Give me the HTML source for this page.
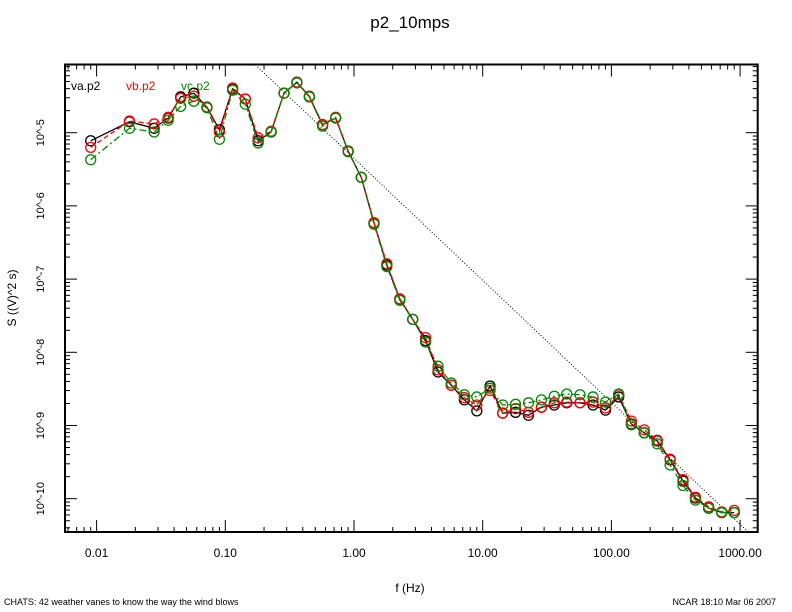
<!DOCTYPE html>
<html><head><meta charset="utf-8"><style>
body{margin:0;background:#fff;}
svg{display:block;font-family:"Liberation Sans",sans-serif;}
</style></head><body>
<svg id="chart" width="792" height="612" xmlns="http://www.w3.org/2000/svg">
<rect width="792" height="612" fill="#fff"/>
<text x="410" y="28" font-size="17" text-anchor="middle">p2_10mps</text>
<text x="410" y="592" font-size="12" text-anchor="middle">f (Hz)</text>
<text transform="translate(16,298) rotate(-90)" font-size="12" text-anchor="middle">S ((V)^2 s)</text>
<text x="4" y="605" font-size="9">CHATS: 42 weather vanes to know the way the wind blows</text>
<text x="776" y="605" font-size="9" text-anchor="end">NCAR 18:10 Mar 06 2007</text>
<text x="71" y="90" font-size="12" fill="#000">va.p2</text>
<text x="126" y="90" font-size="12" fill="#f00">vb.p2</text>
<text x="181" y="90" font-size="12" fill="#080">vc.p2</text>
<g id="axes"></g>
<g id="marks"></g>
<rect x="65" y="64.5" width="692.7" height="467.5" fill="none" stroke="#000" stroke-width="2"/>
</svg>
<script>
const freqs=[0.009,0.018,0.028,0.036,0.045,0.057,0.072,0.09,0.114,0.143,0.18,0.227,0.286,0.36,0.45,0.57,0.72,0.9,1.14,1.43,1.8,2.27,2.86,3.6,4.5,5.7,7.2,9.0,11.4,14.3,18,22.7,28.6,36,45,57,72,90,114,143,180,227,286,360,450,570,720,900];
const vaLog=[-5.11,-4.85,-4.94,-4.80,-4.51,-4.46,-4.65,-4.96,-4.40,-4.54,-5.11,-4.99,-4.46,-4.31,-4.51,-4.89,-4.80,-5.25,-5.61,-6.23,-6.81,-7.27,-7.55,-7.84,-8.27,-8.45,-8.65,-8.80,-8.46,-8.83,-8.82,-8.86,-8.75,-8.72,-8.69,-8.69,-8.72,-8.79,-8.61,-8.98,-9.10,-9.21,-9.47,-9.76,-9.99,-10.13,-10.19,-10.19];
const vbLog=[-5.20,-4.84,-4.88,-4.79,-4.53,-4.50,-4.65,-4.99,-4.39,-4.54,-5.07,-4.98,-4.46,-4.31,-4.50,-4.89,-4.79,-5.25,-5.61,-6.23,-6.79,-7.27,-7.55,-7.80,-8.24,-8.45,-8.62,-8.72,-8.52,-8.83,-8.77,-8.82,-8.75,-8.69,-8.68,-8.69,-8.68,-8.76,-8.58,-8.94,-9.06,-9.20,-9.46,-9.74,-9.98,-10.11,-10.18,-10.16];
const vcLog=[-5.37,-4.94,-4.99,-4.83,-4.64,-4.57,-4.66,-5.09,-4.42,-4.61,-5.14,-4.99,-4.46,-4.32,-4.51,-4.91,-4.80,-5.26,-5.61,-6.25,-6.83,-7.29,-7.55,-7.86,-8.19,-8.42,-8.58,-8.61,-8.49,-8.72,-8.71,-8.69,-8.65,-8.60,-8.57,-8.58,-8.61,-8.68,-8.57,-8.99,-9.10,-9.25,-9.54,-9.82,-10.02,-10.13,-10.19,-10.19];
const xTickLabels=["0.01","0.10","1.00","10.00","100.00","1000.00"];
const yTickLabels=["10^-5","10^-6","10^-7","10^-8","10^-9","10^-10"];
const refSlope=-5/3, refIntercept=-5.35;
const L=65,R=757.7,T=64.5,B=532;
function X(f){return 354+128.7*Math.log10(f);}
function YL(lg){return 132.7-73.2*(lg+5);}
const NS="http://www.w3.org/2000/svg";
function mk(tag,attrs,parent){const e=document.createElementNS(NS,tag);for(const k in attrs)e.setAttribute(k,attrs[k]);parent.appendChild(e);return e;}
const axes=document.getElementById('axes'), marks=document.getElementById('marks');
for(let d=-3;d<=3;d++){for(let m=1;m<10;m++){const f=m*Math.pow(10,d);const x=X(f);if(x<L||x>R)continue;const len=m===1?12:5;
const t1=mk('line',{x1:x,x2:x,y1:B,y2:B-len,stroke:'#000','stroke-width':1},axes);


const t2=mk('line',{x1:x,x2:x,y1:T,y2:T+len,stroke:'#000','stroke-width':1},axes);

}}
xTickLabels.forEach((s,i)=>{const t=mk('text',{x:X(Math.pow(10,i-2)),y:557,'font-size':12,'text-anchor':'middle'},axes);t.textContent=s;

});
for(let d=-11;d<=-4;d++){for(let m=1;m<10;m++){const lg=d+Math.log10(m);const y=YL(lg);if(y<T||y>B)continue;const len=m===1?12:5;
const t1=mk('line',{x1:L,x2:L+len,y1:y,y2:y,stroke:'#000','stroke-width':1},axes);


const t2=mk('line',{x1:R,x2:R-len,y1:y,y2:y,stroke:'#000','stroke-width':1},axes);

}}
yTickLabels.forEach((s,i)=>{const y=YL(-5-i);const t=mk('text',{transform:`translate(44,${y}) rotate(-90)`,'font-size':11,'text-anchor':'middle'},axes);t.textContent=s;

});
(function(){const f1=Math.pow(10,-0.8),f2=Math.pow(10,3.2);
const ln=mk('line',{x1:X(f1),y1:YL(refIntercept+refSlope*Math.log10(f1)),x2:X(f2),y2:YL(refIntercept+refSlope*Math.log10(f2)),stroke:'#000','stroke-width':1,'stroke-dasharray':'1,2'},marks);

})();
const cp=document.createElementNS(NS,'clipPath');cp.id='clip';mk('rect',{x:L,y:T,width:R-L,height:B-T},cp);document.getElementById('chart').appendChild(cp);
marks.setAttribute('clip-path','url(#clip)');
function series(arr,color,dash,name){
const pts=freqs.map((f,i)=>X(f).toFixed(1)+','+YL(arr[i]).toFixed(1)).join(' ');
const pl=mk('polyline',{points:pts,fill:'none',stroke:color,'stroke-width':1.3,'stroke-dasharray':dash},marks);


freqs.forEach((f,i)=>{const c=mk('circle',{cx:X(f),cy:YL(arr[i]),r:5,fill:'none',stroke:color,'stroke-width':1.3},marks);

});}
series(vaLog,'#000','none','va-series');
series(vbLog,'#f00','5,3','vb-series');
series(vcLog,'#080','7,3,2,3','vc-series');
</script>
</body></html>
